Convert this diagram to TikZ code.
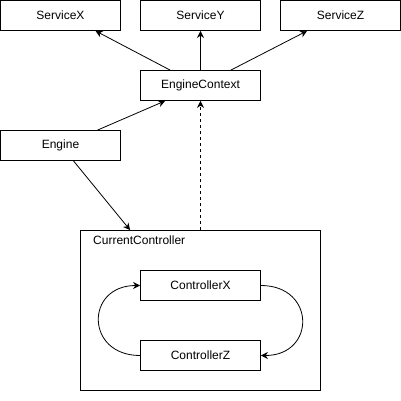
\documentclass[tikz,border=0pt]{standalone}
\usepackage{fontspec}
\setmainfont{Liberation Sans}
\usetikzlibrary{arrows.meta}

\begin{document}
\begin{tikzpicture}[x=1pt,y=-1pt,
    box/.style={draw, thick, minimum width=120pt, minimum height=30pt, inner sep=0pt,
        font=\fontsize{12}{14}\selectfont},
    link/.style={thick, -{Stealth[length=7pt,width=7pt]}},
    label/.style={anchor=west, inner sep=0pt, font=\fontsize{12}{14}\selectfont}]

\useasboundingbox (0,0) rectangle (401,401);

% ============================================
% 1. SERVICES
% ============================================
\node[box] (sx) at (60.5,15.5) {ServiceX};
\node[box] (sy) at (200.5,15.5) {ServiceY};
\node[box] (sz) at (340.5,15.5) {ServiceZ};

% ============================================
% 2. ENGINE
% ============================================
\node[box] (ctx) at (200.5,85.5) {EngineContext};
\node[box] (eng) at (60.5,145.5) {Engine};

% ============================================
% 3. CURRENT CONTROLLER
% ============================================
\node[draw, thick, minimum width=240pt, minimum height=160pt, inner sep=0pt] (cur) at (200.5,310.5) {};
\node[label] (curlbl) at (93,240) {CurrentController};

\node[box] (cx) at (200.5,285.5) {ControllerX};
\node[box] (cz) at (200.5,355.5) {ControllerZ};

% Punkty zaczepienia
\coordinate (c1) at ([xshift=30pt]ctx.north west);
\coordinate (s1) at ([xshift=35pt]sx.south);
\coordinate (c3) at ([xshift=-30pt]ctx.north east);
\coordinate (s3) at ([xshift=27pt]sz.south west);
\coordinate (e1) at ([xshift=37pt]eng.north);
\coordinate (c4) at ([xshift=25pt]ctx.south west);
\coordinate (e2) at ([xshift=13pt]eng.south);
\coordinate (k1) at ([xshift=50pt]cur.north west);

% Krawedzie
\draw[link] (c1) -- (s1);
\draw[link] (ctx.north) -- (sy.south);
\draw[link] (c3) -- (s3);

\draw[link] (e1) -- (c4);
\draw[link] (e2) -- (k1);
\draw[link, dashed] (cur.north) -- (ctx.south);

% Petla
\draw[link] (cx.east) .. controls +(55,0) and +(55,0) .. (cz.east);
\draw[link] (cz.west) .. controls +(-55,0) and +(-55,0) .. (cx.west);

\end{tikzpicture}
\end{document}
